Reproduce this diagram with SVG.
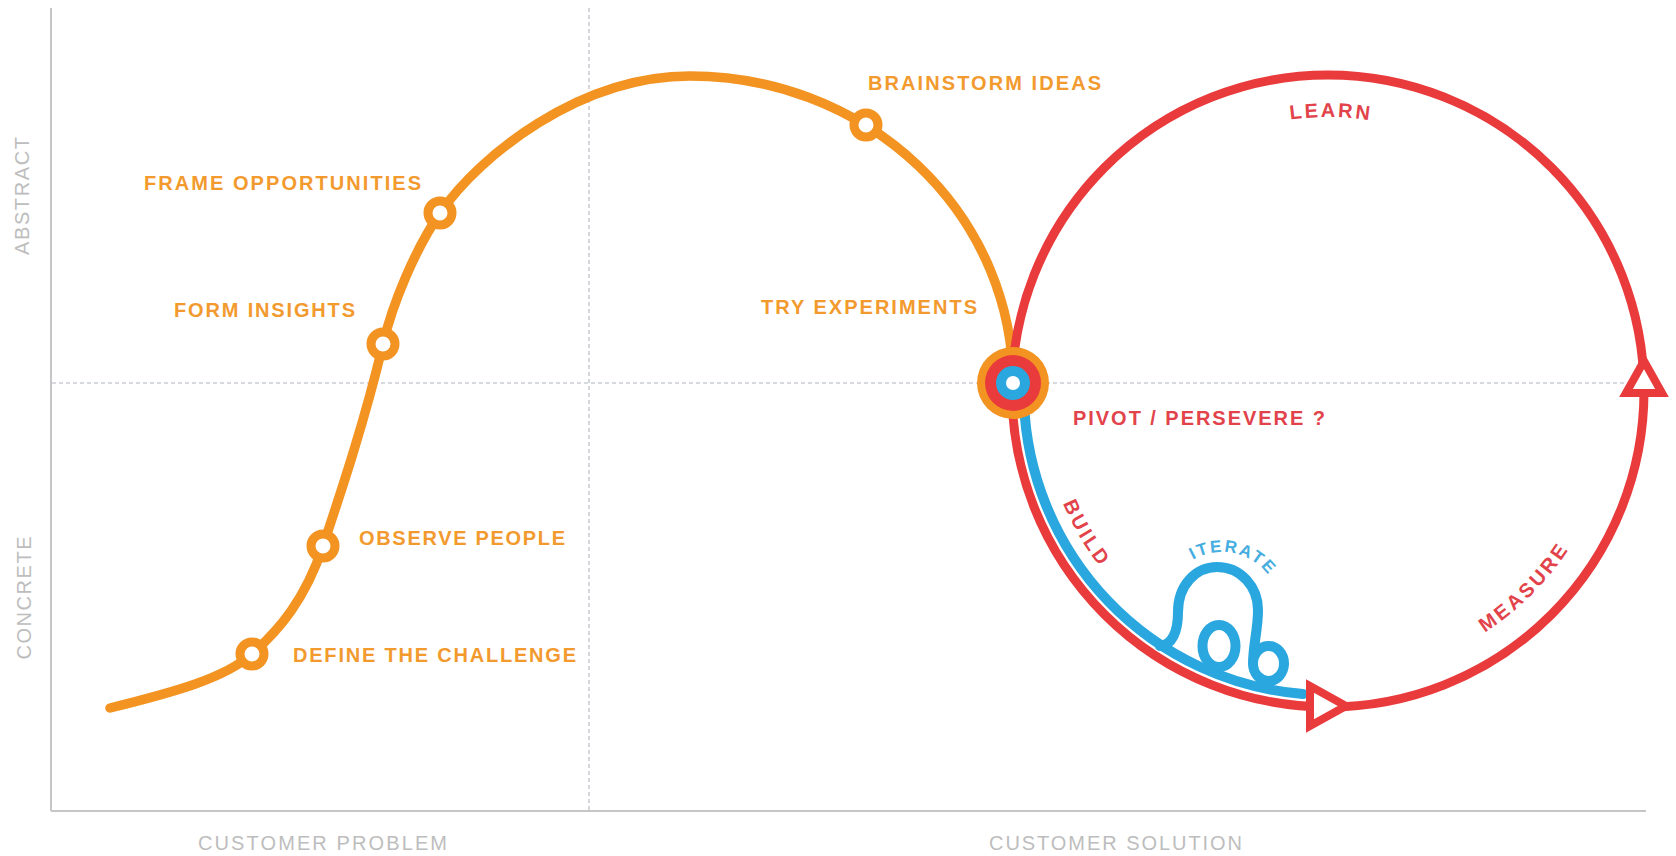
<svg xmlns="http://www.w3.org/2000/svg" width="1676" height="856" viewBox="0 0 1676 856">
<defs>
<style>
.axis{stroke:#c6c6c6;stroke-width:2;fill:none}
.dash{stroke:#c9cdd2;stroke-width:1.6;stroke-dasharray:4 3;fill:none}
.orange{stroke:#F39321;stroke-width:9.5;fill:none;stroke-linecap:round;stroke-linejoin:round}
.red{stroke:#E93A3C;stroke-width:9;fill:none}
.blue{stroke:#2AA7DF;stroke-width:10;fill:none;stroke-linecap:round;stroke-linejoin:round}
.ring{fill:#fff;stroke:#F39321;stroke-width:9}
.arrow{fill:#fff;stroke:#E93A3C;stroke-width:8;stroke-linejoin:miter}
.lo{font-family:"Liberation Sans","DejaVu Sans",sans-serif;font-weight:700;font-size:20px;fill:#F29A2E}
.lr{font-family:"Liberation Sans","DejaVu Sans",sans-serif;font-weight:700;font-size:20px;fill:#E2434B}
.lb{font-family:"Liberation Sans","DejaVu Sans",sans-serif;font-weight:700;font-size:17px;fill:#45ADE0;letter-spacing:2px}
.lg{font-family:"Liberation Sans","DejaVu Sans",sans-serif;font-weight:400;font-size:20px;fill:#bdbdbd}
</style>
<path id="pLearn" d="M1193.5,152.3 A274,274 0 0 1 1467.5,155.2"/>
<path id="pBuild" d="M1041.3,418.6 A288,288 0 0 0 1164.9,628.3"/>
<path id="pMeasure" d="M1402.5,669.2 A288,288 0 0 0 1606.2,465.5"/>
<path id="pIterate" d="M1171.8,581 A58,58 0 0 1 1279.7,603.9"/>
</defs>
<rect width="1676" height="856" fill="#fff"/>
<g id="axes">
<line class="axis" x1="51" y1="8" x2="51" y2="811"/>
<line class="axis" x1="51" y1="811" x2="1646" y2="811"/>
<line class="dash" x1="589" y1="8" x2="589" y2="810"/>
<line class="dash" x1="52" y1="383" x2="1646" y2="383"/>
<text class="lg" transform="translate(29,196) rotate(-90)" text-anchor="middle" textLength="118" lengthAdjust="spacing">ABSTRACT</text>
<text class="lg" transform="translate(31,598) rotate(-90)" text-anchor="middle" textLength="123" lengthAdjust="spacing">CONCRETE</text>
<text class="lg" x="198" y="850" textLength="249" lengthAdjust="spacing">CUSTOMER PROBLEM</text>
<text class="lg" x="989" y="850" textLength="253" lengthAdjust="spacing">CUSTOMER SOLUTION</text>
</g>
<g id="connectors">
<path class="orange" d="M110,708 C175,692 225,678 252,654 C279,630 305,600 323,546 C341,492 365,420 383,344 C393,302 415,250 440,213 C480,155 580,76 690,76 A323,307 0 0 1 1013,383"/>
<circle class="red" cx="1328" cy="391" r="316"/>
<path class="blue" d="M1024,402 A304,304 0 0 0 1303,694"/>
<path class="blue" d="M1160,646 C1172,645 1178,632 1178,612 C1178,585 1196,567 1217,567 C1241,567 1258,587 1258,610 C1258,630 1253,645 1253,664 A15.5,17.5 0 0 0 1268,681 A15.5,17.5 0 0 0 1284,664 A15.5,17.5 0 0 0 1268,646 A15.5,17.5 0 0 0 1253,664"/>
<ellipse class="blue" cx="1219" cy="646" rx="16.5" ry="21"/>
<polygon class="arrow" points="1310,686 1346,706 1310,726"/>
<polygon class="arrow" points="1644,361 1662,393 1626,393"/>
</g>
<g id="node-define">
<circle class="ring" cx="252" cy="654" r="12"/>
<text class="lo" x="293" y="662" textLength="283" lengthAdjust="spacing">DEFINE THE CHALLENGE</text>
</g>
<g id="node-observe">
<circle class="ring" cx="323" cy="546" r="12"/>
<text class="lo" x="359" y="545" textLength="206" lengthAdjust="spacing">OBSERVE PEOPLE</text>
</g>
<g id="node-insights">
<circle class="ring" cx="383" cy="344" r="12"/>
<text class="lo" x="174" y="317" textLength="181" lengthAdjust="spacing">FORM INSIGHTS</text>
</g>
<g id="node-frame">
<circle class="ring" cx="440" cy="213" r="12"/>
<text class="lo" x="144" y="190" textLength="277" lengthAdjust="spacing">FRAME OPPORTUNITIES</text>
</g>
<g id="node-brainstorm">
<circle class="ring" cx="866" cy="125" r="12"/>
<text class="lo" x="868" y="90" textLength="233" lengthAdjust="spacing">BRAINSTORM IDEAS</text>
</g>
<g id="node-experiments">
<text class="lo" x="761" y="314" textLength="216" lengthAdjust="spacing">TRY EXPERIMENTS</text>
</g>
<g id="node-pivot">
<circle cx="1013" cy="383" r="36" fill="#F39321"/>
<circle cx="1013" cy="383" r="28" fill="#E93A3C"/>
<circle cx="1013" cy="383" r="17" fill="#2AA7DF"/>
<circle cx="1013" cy="383" r="7" fill="#fff"/>
<text class="lr" x="1073" y="425" textLength="252" lengthAdjust="spacing">PIVOT / PERSEVERE ?</text>
</g>
<g id="cycle-labels">
<text class="lr" text-anchor="middle" letter-spacing="2.5"><textPath href="#pLearn" startOffset="50%">LEARN</textPath></text>
<text class="lr" text-anchor="middle" letter-spacing="3"><textPath href="#pBuild" startOffset="50%">BUILD</textPath></text>
<text class="lr" text-anchor="middle" letter-spacing="3"><textPath href="#pMeasure" startOffset="50%">MEASURE</textPath></text>
<text class="lb" text-anchor="middle"><textPath href="#pIterate" startOffset="50%">ITERATE</textPath></text>
</g>
</svg>
